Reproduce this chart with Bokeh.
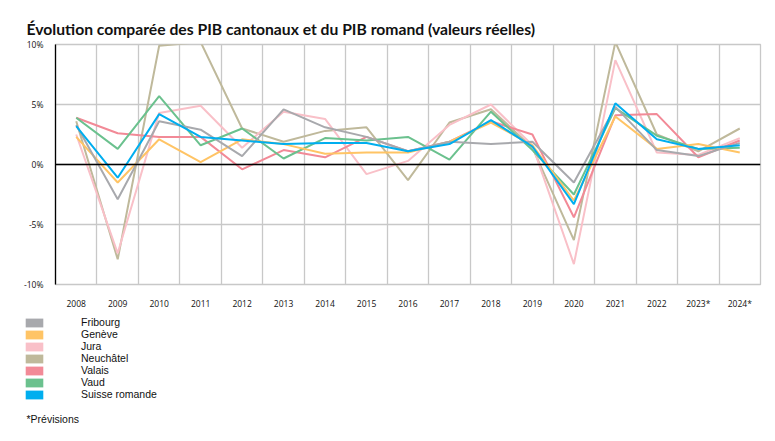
from bokeh.plotting import figure
from bokeh.models import (Range1d, FixedTicker, Span, Label, Legend, LegendItem,
                          ColumnDataSource)
from bokeh.embed import file_html
from bokeh.resources import INLINE

years = ["2008", "2009", "2010", "2011", "2012", "2013", "2014", "2015", "2016",
         "2017", "2018", "2019", "2020", "2021", "2022", "2023*", "2024*"]

fribourg  = [3.3, -2.9, 3.6, 2.9, 0.7, 4.6, 3.1, 2.3, 1.1, 1.9, 1.7, 1.9, -1.5, 4.8, 1.2, 0.7, 1.8]
geneve    = [2.3, -1.5, 2.1, 0.2, 2.1, 1.7, 0.9, 1.0, 1.0, 1.9, 3.5, 1.6, -3.0, 4.0, 1.3, 1.7, 1.0]
jura      = [2.5, -7.4, 4.3, 4.9, 1.4, 4.4, 3.8, -0.8, 0.3, 3.3, 5.0, 1.6, -8.3, 8.7, 1.0, 0.8, 2.2]
neuchatel = [3.6, -7.9, 9.9, 10.2, 3.0, 1.9, 2.8, 3.1, -1.3, 3.5, 4.6, 1.4, -6.3, 10.2, 2.5, 1.1, 3.0]
valais    = [3.9, 2.6, 2.3, 2.3, -0.4, 1.2, 0.6, 2.3, 1.1, 1.9, 3.6, 2.5, -4.4, 4.1, 4.2, 0.6, 2.0]
vaud      = [3.9, 1.3, 5.7, 1.6, 3.0, 0.5, 2.2, 2.0, 2.3, 0.4, 4.4, 1.2, -2.5, 4.7, 2.4, 1.3, 1.4]
romande   = [3.2, -1.1, 4.2, 2.3, 2.0, 1.7, 1.8, 1.8, 1.1, 1.7, 3.7, 1.5, -3.3, 5.1, 2.1, 1.3, 1.6]

names = ["Fribourg", "Genève", "Jura", "Neuchâtel", "Valais", "Vaud", "Suisse romande"]
series = [fribourg, geneve, jura, neuchatel, valais, vaud, romande]
colors = ["#A8A9AD", "#FFC465", "#F9C0C8", "#BFB99B", "#F28A97", "#6BC18E", "#00AEEF"]

y_ticks = [-10, -5, 0, 5, 10]

xpos = [i + 0.5 for i in range(len(years))]

W = 762
H1 = 311
p = figure(width=W, height=H1, output_backend="svg", toolbar_location=None,
           x_range=Range1d(0, len(years)), y_range=Range1d(-10, 10),
           min_border_left=55, min_border_right=2, min_border_top=44,
           min_border_bottom=20)
p.background_fill_color = "white"
p.border_fill_color = "white"
p.outline_line_color = "#C8C8C8"
p.outline_line_width = 1.3

p.title.text = "Évolution comparée des PIB cantonaux et du PIB romand (valeurs réelles)"
p.title.text_font = "Lato"
p.title.text_font_style = "bold"
p.title.text_font_size = "15.7px"
p.title.text_color = "#111111"
p.title.align = "left"
p.title.offset = -29
p.title.standoff = 14

# grids
p.xgrid.ticker = FixedTicker(ticks=list(range(len(years) + 1)))
p.xgrid.grid_line_color = "#C8C8C8"
p.xgrid.grid_line_width = 1.3
p.ygrid.ticker = FixedTicker(ticks=y_ticks)
p.ygrid.grid_line_color = "#C8C8C8"
p.ygrid.grid_line_width = 1.3

# axes
p.xaxis.ticker = FixedTicker(ticks=xpos)
p.xaxis.major_label_overrides = {x: y for x, y in zip(xpos, years)}
p.yaxis.ticker = FixedTicker(ticks=y_ticks)
p.yaxis.major_label_overrides = {t: f"{t}%" for t in y_ticks}
for ax in (p.xaxis, p.yaxis):
    ax.major_tick_line_color = None
    ax.minor_tick_line_color = None
    ax.major_label_text_font = "Open Sans"
    ax.major_label_text_font_size = "8.5px"
    ax.major_label_text_color = "#111111"
p.xaxis.axis_line_color = "#C8C8C8"
p.xaxis.major_label_standoff = 7
p.yaxis.axis_line_color = "black"
p.yaxis.axis_line_width = 1.3
p.yaxis.major_label_standoff = 6

p.add_layout(Span(location=0, dimension="width", line_color="black", line_width=1.4))

order = [3, 2, 4, 5, 1, 0, 6]
for i in order:
    src = ColumnDataSource(dict(x=xpos, y=series[i]))
    p.line("x", "y", source=src, line_color=colors[i], line_width=2)

# legend panel (separate root, so no frame alignment with the chart)
H2 = 441 - H1 - 2
q = figure(width=W, height=H2, output_backend="svg", toolbar_location=None,
           x_range=Range1d(0, W), y_range=Range1d(0, H2),
           x_axis_location=None, y_axis_location=None,
           min_border_left=0, min_border_right=0, min_border_top=0, min_border_bottom=0)
q.grid.visible = False
q.outline_line_color = None

nan = float("nan")
items = []
for n, c in zip(names, colors):
    r = q.quad(left=[nan], right=[nan], top=[nan], bottom=[nan], fill_color=c,
               line_color=None)
    items.append(LegendItem(label=n, renderers=[r]))

legend = Legend(items=items, location=(23, H2 - 5 - 84), orientation="vertical",
                glyph_width=22, glyph_height=11, label_height=12, spacing=0,
                label_standoff=36, padding=0, margin=0, border_line_color=None,
                background_fill_alpha=0, label_text_font="Liberation Sans",
                label_text_font_size="10.5px", label_text_color="#111111")
q.add_layout(legend, "center")

note = Label(x=26, y=H2 - 107, x_units="screen", y_units="screen", text="*Prévisions",
             text_font="Liberation Sans", text_font_size="10.5px",
             text_color="#111111", text_baseline="alphabetic")
q.add_layout(note)

open("out.html", "w").write(file_html([p, q], INLINE))
